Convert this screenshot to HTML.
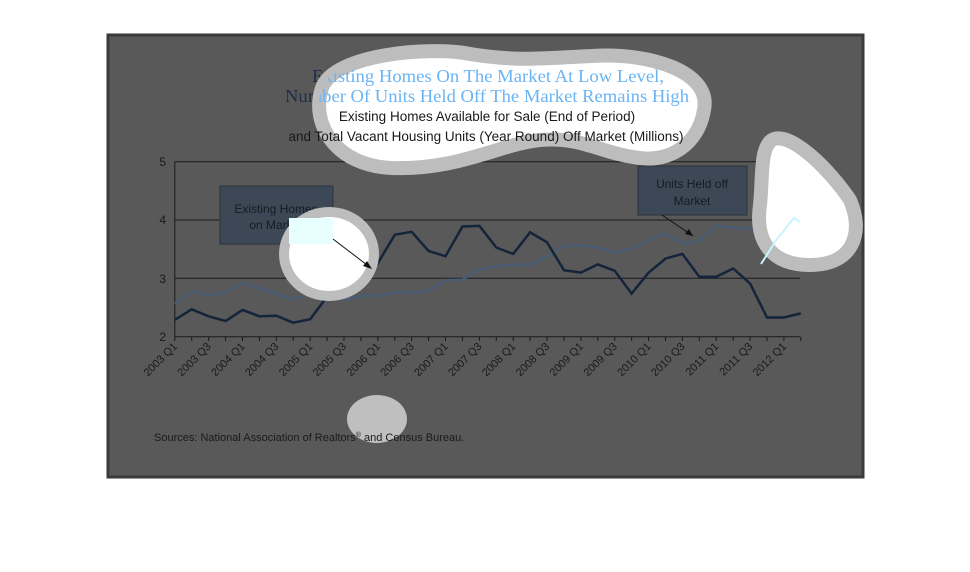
<!DOCTYPE html>
<html><head><meta charset="utf-8"><style>
html,body{margin:0;padding:0;background:#fff;}
svg{display:block;}
</style></head><body>
<svg width="970" height="572" viewBox="0 0 970 572" xmlns="http://www.w3.org/2000/svg">
<defs>
<clipPath id="tb"><path id="tp" d="M 322,88 C 334,54 430,46 470,54 C 520,62 545,58 592,56 C 650,52 712,72 704,110 C 698,146 668,162 640,158 C 602,154 582,136 540,140 C 500,144 460,170 392,168 C 336,166 310,124 322,88 Z"/></clipPath>
</defs>
<rect x="108" y="35" width="755" height="442" fill="#595959" stroke="#3a3a3a" stroke-width="3"/>
<g stroke="#1a1a1a" stroke-width="1">
<line x1="174.8" y1="161.7" x2="800" y2="161.7"/>
<line x1="174.8" y1="220" x2="800" y2="220"/>
<line x1="174.8" y1="278.3" x2="800" y2="278.3"/>
<line x1="174.8" y1="336.7" x2="800" y2="336.7"/>
<line x1="174.8" y1="161.7" x2="174.8" y2="336.7"/>
</g>
<g id="ticks" stroke="#1a1a1a" stroke-width="1"></g>
<g font-family="Liberation Sans, sans-serif" font-size="12" fill="#1a1a1a" text-anchor="end">
<text x="166" y="166">5</text><text x="166" y="224">4</text><text x="166" y="283">3</text><text x="166" y="341">2</text>
</g>
<g id="xl" font-family="Liberation Sans, sans-serif" font-size="11" fill="#1a1a1a"></g>
<polyline id="l2" fill="none" stroke="#4a5d75" stroke-width="2.5"/>
<polyline id="l1" fill="none" stroke="#14243a" stroke-width="2.5"/>
<rect x="220" y="186" width="113" height="58" fill="#3d4856" stroke="#2c333c"/>
<text x="276" y="213" font-family="Liberation Sans, sans-serif" font-size="12" fill="#151b22" text-anchor="middle">Existing Homes</text>
<text x="276" y="229" font-family="Liberation Sans, sans-serif" font-size="12" fill="#151b22" text-anchor="middle">on Market</text>
<rect x="638" y="166" width="109" height="49" fill="#3d4856" stroke="#2c333c"/>
<text x="692" y="188" font-family="Liberation Sans, sans-serif" font-size="12" fill="#151b22" text-anchor="middle">Units Held off</text>
<text x="692" y="205" font-family="Liberation Sans, sans-serif" font-size="12" fill="#151b22" text-anchor="middle">Market</text>
<line x1="662" y1="215" x2="693" y2="236" stroke="#111" stroke-width="1"/>
<polygon points="693,236 685,234 689,229" fill="#111"/>
<g font-family="Liberation Serif, serif" font-size="18" fill="#1f2d4a" text-anchor="middle">
<text x="488" y="82" textLength="352" lengthAdjust="spacingAndGlyphs">Existing Homes On The Market At Low Level,</text>
<text x="487" y="102" textLength="404" lengthAdjust="spacingAndGlyphs">Number Of Units Held Off The Market Remains High</text>
</g>
<path d="M 322,88 C 334,54 430,46 470,54 C 520,62 545,58 592,56 C 650,52 712,72 704,110 C 698,146 668,162 640,158 C 602,154 582,136 540,140 C 500,144 460,170 392,168 C 336,166 310,124 322,88 Z" fill="#fff" stroke="#bdbdbd" stroke-width="14"/>
<ellipse cx="329" cy="254" rx="45" ry="42" fill="#fff" stroke="#bdbdbd" stroke-width="10"/>
<path d="M 772,140 C 790,130 830,170 850,200 C 864,232 854,265 810,265 C 770,265 755,240 760,205 C 763,175 760,148 772,140 Z" fill="#fff" stroke="#bdbdbd" stroke-width="14"/>
<ellipse cx="377" cy="419" rx="30" ry="24" fill="#bfbfbf"/>
<rect x="289" y="218" width="44" height="26" fill="#e8ffff"/>
<line x1="333" y1="239" x2="371" y2="268" stroke="#111" stroke-width="1"/>
<polygon points="372,269 363,266 367,261" fill="#111"/>
<polyline points="761,264 777,239 794,218 800,222" fill="none" stroke="#c6f4ff" stroke-width="2"/>
<g clip-path="url(#tb)" font-family="Liberation Serif, serif" font-size="18" fill="#6ab4f5" text-anchor="middle">
<text x="488" y="82" textLength="352" lengthAdjust="spacingAndGlyphs">Existing Homes On The Market At Low Level,</text>
<text x="487" y="102" textLength="404" lengthAdjust="spacingAndGlyphs">Number Of Units Held Off The Market Remains High</text>
</g>
<g font-family="Liberation Sans, sans-serif" font-size="13.5" fill="#1a1a1a" text-anchor="middle">
<text x="487" y="121">Existing Homes Available for Sale (End of Period)</text>
<text x="486" y="141">and Total Vacant Housing Units (Year Round) Off Market (Millions)</text>
</g>
<text x="154" y="441" font-family="Liberation Sans, sans-serif" font-size="11" fill="#1a1a1a">Sources: National Association of Realtors<tspan font-size="7" dy="-4">®</tspan><tspan dy="4"> and Census Bureau.</tspan></text>
</svg>
<script>
var d1=[2.29,2.47,2.35,2.27,2.46,2.35,2.36,2.24,2.30,2.69,2.74,2.85,3.26,3.75,3.80,3.47,3.38,3.89,3.90,3.53,3.42,3.79,3.62,3.14,3.10,3.24,3.13,2.74,3.10,3.34,3.42,3.03,3.03,3.17,2.91,2.33,2.33,2.40];
var d2=[2.57,2.78,2.71,2.76,2.93,2.83,2.73,2.64,2.73,2.78,2.63,2.70,2.70,2.76,2.76,2.78,2.97,2.98,3.15,3.21,3.23,3.24,3.37,3.55,3.57,3.53,3.44,3.51,3.66,3.77,3.60,3.64,3.90,3.87,3.85,3.63];
function X(i){return 174.8+i*16.92;}function Y(v){return 336.7-(v-2)*58.3;}
function pts(d){return d.map(function(v,i){return X(i).toFixed(1)+','+Y(v).toFixed(1)}).join(' ');}
document.getElementById('l1').setAttribute('points',pts(d1));
document.getElementById('l2').setAttribute('points',pts(d2));
var ns='http://www.w3.org/2000/svg',t=document.getElementById('ticks'),xl=document.getElementById('xl');
for(var i=0;i<38;i++){var l=document.createElementNS(ns,'line');l.setAttribute('x1',X(i));l.setAttribute('x2',X(i));l.setAttribute('y1',336.7);l.setAttribute('y2',341);t.appendChild(l);}
for(var k=0;k<19;k++){var q=(k%2==0)?'Q1':'Q3';var y=2003+Math.floor(k/2);var tx=document.createElementNS(ns,'text');var x=X(2*k)+3,yy=347;
tx.setAttribute('x',x);tx.setAttribute('y',yy);tx.setAttribute('text-anchor','end');tx.setAttribute('transform','rotate(-45 '+x+' '+yy+')');tx.textContent=y+' '+q;xl.appendChild(tx);}
</script>
</body></html>
